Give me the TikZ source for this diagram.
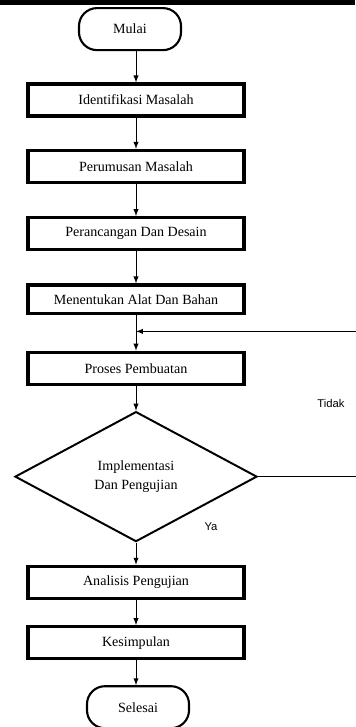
\documentclass[tikz,border=0pt]{standalone}
\usepackage{fontspec}
\setmainfont{Liberation Serif}
\newfontfamily\labelfont{Liberation Sans}
\usetikzlibrary{arrows,shapes,positioning}

\tikzset{
    terminal/.style={draw, line width=1.5pt, rounded corners=0.45cm,
        minimum width=2.55cm, minimum height=1.05cm, font=\fontsize{10}{12}\selectfont},
    prosesbox/.style={draw, line width=2.3pt, minimum width=5.4cm,
        minimum height=0.8cm, font=\fontsize{10}{12}\selectfont},
    keputusan/.style={draw, diamond, line width=1.4pt, minimum width=6.05cm,
        minimum height=3.25cm, inner sep=0pt, align=center,
        font=\fontsize{10}{13}\selectfont},
    alur/.style={-latex, line width=0.7pt},
    garis/.style={line width=0.7pt},
    ket/.style={font=\labelfont\fontsize{8}{10}\selectfont}
}

\begin{document}
\begin{tikzpicture}[x=0.025cm, y=-0.025cm, node distance=0.78cm]
    \useasboundingbox (0,0) rectangle (355,727);
    \fill[black] (0,0) rectangle (355,5);

    \node[prosesbox] (ident) at (136,100) {Identifikasi Masalah};
    \node[terminal, above=0.78cm of ident, xshift=-0.15cm] (mulai) {Mulai};
    \node[prosesbox, below=of ident] (rumus) {Perumusan Masalah};
    \node[prosesbox, below=0.8cm of rumus] (desain) {Perancangan Dan Desain};
    \node[prosesbox, below=0.8cm of desain, minimum height=0.72cm] (alat) {Menentukan Alat Dan Bahan};
    \node[prosesbox, below=0.88cm of alat] (buat) {Proses Pembuatan};
    \node[keputusan, below=0.62cm of buat] (uji) {Implementasi\\Dan Pengujian};
    \node[prosesbox, below=0.55cm of uji] (analisis) {Analisis Pengujian};
    \node[prosesbox, below=0.63cm of analisis] (simpul) {Kesimpulan};
    \node[terminal, below=0.62cm of simpul, xshift=0.05cm] (selesai) {Selesai};

    \coordinate[below=0.4cm of alat] (gabung);
    \coordinate (tepi) at (356,0);

    \node[ket] (tidak) at (331,403) {Tidak};
    \node[ket] (ya) at (211,527) {Ya};

    % alur utama
    \draw[alur] (mulai.south -| ident) -- (ident);
    \draw[alur] (ident) -- (rumus);
    \draw[alur] (rumus) -- (desain);
    \draw[alur] (desain) -- (alat);
    \draw[garis] (alat) -- (gabung);
    \draw[alur] (gabung) -- (buat);
    \draw[alur] (buat) -- (uji);
    \draw[alur] (uji) -- (analisis);
    \draw[alur] (analisis) -- (simpul);
    \draw[alur] (simpul.south) -- (simpul.south |- selesai.north);

    % balik (Tidak)
    \draw[garis] (uji.east) -- (uji.east -| tepi);
    \draw[alur] (gabung -| tepi) -- (gabung);
\end{tikzpicture}
\end{document}
